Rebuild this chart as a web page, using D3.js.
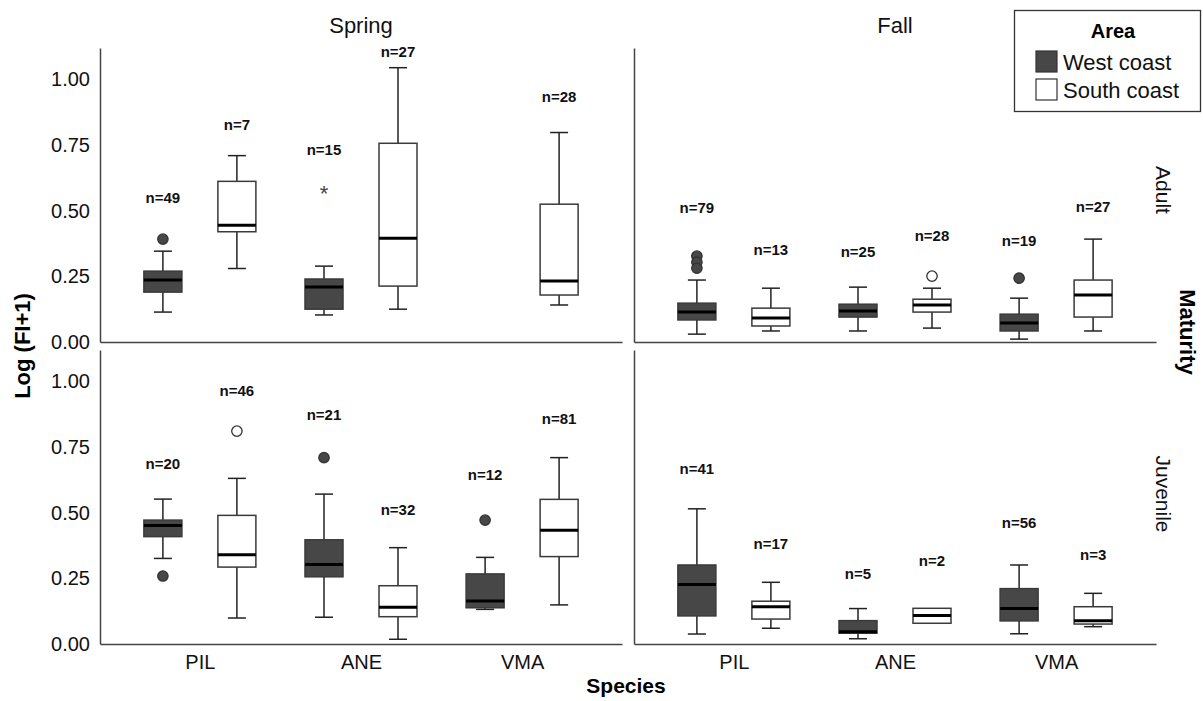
<!DOCTYPE html>
<html>
<head>
<meta charset="utf-8">
<script src="https://cdn.jsdelivr.net/npm/d3@7"></script>
<style>
  body { margin: 0; background: #fff; }
  svg { font-family: "Liberation Sans", Arial, Helvetica, sans-serif; }
</style>
</head>
<body>
<svg id="chart" width="1203" height="701"></svg>
<script>
// categories
var seasons = ['Spring', 'Fall'];
var stages = ['Adult', 'Juvenile'];
var species = ['PIL', 'ANE', 'VMA'];
var areas = ['West coast', 'South coast'];
var yTicks = [0, 0.25, 0.5, 0.75, 1.0];

// box stats: species, area, low whisker, q1, median, q3, high whisker, n, height of n label
var springAdult = [
  ['PIL', 'West coast', 0.114, 0.19, 0.236, 0.27, 0.346, 49, 0.548],
  ['PIL', 'South coast', 0.28, 0.42, 0.445, 0.612, 0.71, 7, 0.829],
  ['ANE', 'West coast', 0.103, 0.125, 0.21, 0.24, 0.289, 15, 0.734],
  ['ANE', 'South coast', 0.125, 0.213, 0.395, 0.757, 1.045, 27, 1.106],
  ['VMA', 'South coast', 0.141, 0.179, 0.232, 0.525, 0.798, 28, 0.935]
];
var fallAdult = [
  ['PIL', 'West coast', 0.03, 0.084, 0.114, 0.148, 0.236, 79, 0.51],
  ['PIL', 'South coast', 0.042, 0.061, 0.091, 0.129, 0.205, 13, 0.35],
  ['ANE', 'West coast', 0.042, 0.095, 0.118, 0.144, 0.209, 25, 0.342],
  ['ANE', 'South coast', 0.053, 0.114, 0.141, 0.163, 0.205, 28, 0.403],
  ['VMA', 'West coast', 0.011, 0.042, 0.072, 0.106, 0.167, 19, 0.384],
  ['VMA', 'South coast', 0.042, 0.095, 0.179, 0.236, 0.392, 27, 0.517]
];
var springJuvenile = [
  ['PIL', 'West coast', 0.326, 0.409, 0.451, 0.472, 0.552, 20, 0.688],
  ['PIL', 'South coast', 0.099, 0.293, 0.34, 0.49, 0.631, 46, 0.965],
  ['ANE', 'West coast', 0.102, 0.256, 0.303, 0.397, 0.571, 21, 0.872],
  ['ANE', 'South coast', 0.018, 0.104, 0.14, 0.222, 0.367, 32, 0.513],
  ['VMA', 'West coast', 0.132, 0.138, 0.164, 0.267, 0.33, 12, 0.644],
  ['VMA', 'South coast', 0.149, 0.333, 0.433, 0.551, 0.71, 81, 0.86]
];
var fallJuvenile = [
  ['PIL', 'West coast', 0.038, 0.107, 0.227, 0.301, 0.515, 41, 0.669],
  ['PIL', 'South coast', 0.06, 0.095, 0.142, 0.163, 0.235, 17, 0.381],
  ['ANE', 'West coast', 0.02, 0.041, 0.047, 0.089, 0.135, 5, 0.267],
  ['ANE', 'South coast', null, 0.079, 0.109, 0.136, null, 2, 0.316],
  ['VMA', 'West coast', 0.039, 0.088, 0.135, 0.211, 0.301, 56, 0.462],
  ['VMA', 'South coast', 0.066, 0.076, 0.089, 0.142, 0.193, 3, 0.339]
];

// outliers: species, area, value, kind ('o' circle, '*' extreme)
var springAdultOut = [['PIL', 'West coast', 0.392, 'o'], ['ANE', 'West coast', 0.585, '*']];
var fallAdultOut = [
  ['PIL', 'West coast', 0.327, 'o'], ['PIL', 'West coast', 0.304, 'o'], ['PIL', 'West coast', 0.281, 'o'],
  ['ANE', 'South coast', 0.251, 'o'], ['VMA', 'West coast', 0.243, 'o']
];
var springJuvenileOut = [
  ['PIL', 'West coast', 0.259, 'o'], ['PIL', 'South coast', 0.811, 'o'],
  ['ANE', 'West coast', 0.71, 'o'], ['VMA', 'West coast', 0.472, 'o']
];
var fallJuvenileOut = [];

var panels = [
  { season: 'Spring', stage: 'Adult', boxes: springAdult, out: springAdultOut },
  { season: 'Fall', stage: 'Adult', boxes: fallAdult, out: fallAdultOut },
  { season: 'Spring', stage: 'Juvenile', boxes: springJuvenile, out: springJuvenileOut },
  { season: 'Fall', stage: 'Juvenile', boxes: fallJuvenile, out: fallJuvenileOut }
];

var svg = d3.select('#chart');

var xRanges = { Spring: [100, 622], Fall: [634, 1156] };
var yRanges = { Adult: [342, 48], Juvenile: [644, 350] };

var fillFor = d3.scaleOrdinal().domain(areas).range(['#474747', '#ffffff']);
var offset = d3.scalePoint().domain(areas).range([-37, 37]);
var boxW = 38, capW = 18;

panels.forEach(function(p) {
  var x = d3.scalePoint().domain(species).range(xRanges[p.season]).padding(0.62);
  var y = d3.scaleLinear().domain([0, 1.12]).range(yRanges[p.stage]);
  var g = svg.append('g');

  // y axis, labels only on the left column
  var ya = g.append('g')
    .attr('transform', 'translate(' + xRanges[p.season][0] + ',0)')
    .call(d3.axisLeft(y).tickValues(yTicks).tickFormat(d3.format('.2f')).tickSize(0).tickSizeOuter(0).tickPadding(10));
  ya.select('.domain').attr('stroke', '#444').attr('stroke-width', 1.5);
  ya.selectAll('text').style('font-size', '20px').attr('fill', '#111');
  if (p.season === 'Fall') ya.selectAll('.tick').remove();

  // x axis, labels only on the bottom row
  var xa = g.append('g')
    .attr('transform', 'translate(0,' + y(0) + ')')
    .call(d3.axisBottom(x).tickSize(0).tickSizeOuter(0).tickPadding(11));
  xa.select('.domain').attr('stroke', '#444').attr('stroke-width', 1.5);
  xa.selectAll('text').style('font-size', '20px').attr('fill', '#111');
  if (p.stage === 'Adult') xa.selectAll('.tick').remove();

  var bx = function(d) { return x(d[0]) + offset(d[1]); };

  var b = g.selectAll('g.box').data(p.boxes).enter().append('g').attr('class', 'box');

  // whiskers (none for n=2)
  b.filter(function(d) { return d[2] !== null; }).each(function(d) {
    var s = d3.select(this), cx = bx(d);
    s.append('line').attr('x1', cx).attr('x2', cx).attr('y1', y(d[6])).attr('y2', y(d[5]))
      .attr('stroke', '#222').attr('stroke-width', 1.5);
    s.append('line').attr('x1', cx).attr('x2', cx).attr('y1', y(d[2])).attr('y2', y(d[3]))
      .attr('stroke', '#222').attr('stroke-width', 1.5);
    s.append('line').attr('x1', cx - capW / 2).attr('x2', cx + capW / 2).attr('y1', y(d[6])).attr('y2', y(d[6]))
      .attr('stroke', '#222').attr('stroke-width', 1.5);
    s.append('line').attr('x1', cx - capW / 2).attr('x2', cx + capW / 2).attr('y1', y(d[2])).attr('y2', y(d[2]))
      .attr('stroke', '#222').attr('stroke-width', 1.5);
  });

  b.append('rect')
    .attr('x', function(d) { return bx(d) - boxW / 2; })
    .attr('y', function(d) { return y(d[5]); })
    .attr('width', boxW)
    .attr('height', function(d) { return y(d[3]) - y(d[5]); })
    .attr('fill', function(d) { return fillFor(d[1]); })
    .attr('stroke', '#3a3a3a')
    .attr('stroke-width', 1.5);

  b.append('line')
    .attr('x1', function(d) { return bx(d) - boxW / 2; })
    .attr('x2', function(d) { return bx(d) + boxW / 2; })
    .attr('y1', function(d) { return y(d[4]); })
    .attr('y2', function(d) { return y(d[4]); })
    .attr('stroke', '#000')
    .attr('stroke-width', 3);

  b.append('text')
    .attr('x', bx)
    .attr('y', function(d) { return y(d[8]); })
    .attr('dy', '0.35em')
    .attr('text-anchor', 'middle')
    .style('font-size', '15px')
    .style('font-weight', 'bold')
    .attr('fill', '#111')
    .text(function(d) { return 'n=' + d[7]; });

  // outliers
  g.selectAll('circle.out').data(p.out.filter(function(d) { return d[3] === 'o'; }))
    .enter().append('circle')
    .attr('cx', bx)
    .attr('cy', function(d) { return y(d[2]); })
    .attr('r', 5.2)
    .attr('fill', function(d) { return fillFor(d[1]); })
    .attr('stroke', '#333')
    .attr('stroke-width', 1.3);

  g.selectAll('text.star').data(p.out.filter(function(d) { return d[3] === '*'; }))
    .enter().append('text')
    .attr('x', bx)
    .attr('y', function(d) { return y(d[2]); })
    .attr('dy', '0.55em')
    .attr('text-anchor', 'middle')
    .style('font-size', '22px')
    .attr('fill', '#444')
    .text('*');
});

// column titles
svg.selectAll('text.season').data(seasons).enter().append('text')
  .attr('x', function(d) { return (xRanges[d][0] + xRanges[d][1]) / 2; })
  .attr('y', 25)
  .attr('dy', '0.35em')
  .attr('text-anchor', 'middle')
  .style('font-size', '22px')
  .attr('fill', '#111')
  .text(function(d) { return d; });

// row titles
svg.selectAll('text.stage').data(stages).enter().append('text')
  .attr('transform', function(d, i) {
    var cy = i === 0 ? 190 : 494;
    return 'translate(1163,' + cy + ') rotate(90)';
  })
  .attr('dy', '0.35em')
  .attr('text-anchor', 'middle')
  .style('font-size', '21px')
  .attr('fill', '#111')
  .text(function(d) { return d; });

svg.append('text')
  .attr('transform', 'translate(1188,332) rotate(90)')
  .attr('dy', '0.35em')
  .attr('text-anchor', 'middle')
  .style('font-size', '22px')
  .style('font-weight', 'bold')
  .text('Maturity');

svg.append('text')
  .attr('transform', 'translate(22,346) rotate(-90)')
  .attr('dy', '0.35em')
  .attr('text-anchor', 'middle')
  .style('font-size', '22px')
  .style('font-weight', 'bold')
  .text('Log (FI+1)');

svg.append('text')
  .attr('x', 626)
  .attr('y', 686)
  .attr('dy', '0.35em')
  .attr('text-anchor', 'middle')
  .style('font-size', '21px')
  .style('font-weight', 'bold')
  .text('Species');

// legend
var leg = svg.append('g');
leg.append('rect').attr('x', 1014.5).attr('y', 10.5).attr('width', 186).attr('height', 101)
  .attr('fill', '#fff').attr('stroke', '#333').attr('stroke-width', 1.3);
leg.append('text').attr('x', 1113).attr('y', 31).attr('dy', '0.35em').attr('text-anchor', 'middle')
  .style('font-size', '20px').style('font-weight', 'bold').text('Area');
var li = leg.selectAll('g.item').data(areas).enter().append('g')
  .attr('transform', function(d, i) { return 'translate(1036,' + (51 + i * 28) + ')'; });
li.append('rect').attr('width', 21).attr('height', 21)
  .attr('fill', function(d) { return fillFor(d); })
  .attr('stroke', '#333').attr('stroke-width', 1.2);
li.append('text').attr('x', 27).attr('y', 11).attr('dy', '0.35em')
  .style('font-size', '22px').attr('fill', '#111').text(function(d) { return d; });
</script>
</body>
</html>
